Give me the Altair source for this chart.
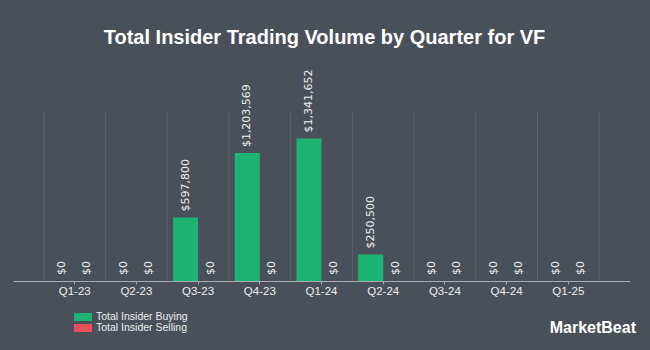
import altair as alt
import pandas as pd

quarters = ["Q1-23", "Q2-23", "Q3-23", "Q4-23", "Q1-24", "Q2-24", "Q3-24", "Q4-24", "Q1-25"]
buying = [0, 0, 597800, 1203569, 1341652, 250500, 0, 0, 0]
selling = [0, 0, 0, 0, 0, 0, 0, 0, 0]
series = ["Total Insider Buying", "Total Insider Selling"]
colors = ["#1db473", "#e8505b"]

rows = []
for q, b, s in zip(quarters, buying, selling):
    rows.append({"quarter": q, "type": series[0], "value": b})
    rows.append({"quarter": q, "type": series[1], "value": s})
df = pd.DataFrame(rows)
grid_df = pd.DataFrame({"quarter": quarters})
last_df = pd.DataFrame({"quarter": [quarters[-1]]})

BG = "#4a505a"
TXT = "#eeeeee"
GRID = "#5d636d"

xscale = alt.Scale(domain=quarters, paddingInner=0, paddingOuter=0.5)
yscale = alt.Scale(domain=[0, 1600000])

x_axis = alt.Axis(title=None, labelColor=TXT, labelFontSize=11.5, labelFont="Liberation Sans",
                  domainColor="#a9adb3", tickColor="#a9adb3", tickSize=3, labelPadding=1,
                  grid=False, labelAngle=0)

grid = alt.Chart(grid_df).mark_rule(color=GRID, strokeWidth=1).encode(
    x=alt.X("quarter:N", scale=xscale, bandPosition=0, axis=x_axis, sort=quarters),
    y=alt.value(0), y2=alt.value(170)
)
grid_last = alt.Chart(last_df).mark_rule(color=GRID, strokeWidth=1).encode(
    x=alt.X("quarter:N", scale=xscale, bandPosition=1, sort=quarters),
    y=alt.value(0), y2=alt.value(170)
)

bars = alt.Chart(df).mark_bar().encode(
    x=alt.X("quarter:N", scale=xscale, sort=quarters),
    xOffset=alt.XOffset("type:N", scale=alt.Scale(domain=series, paddingInner=0, paddingOuter=0.234)),
    y=alt.Y("value:Q", scale=yscale, axis=None),
    color=alt.Color("type:N", scale=alt.Scale(domain=series, range=colors),
                    legend=alt.Legend(title=None, orient="none", legendX=61, legendY=202,
                                      symbolType="M-1,-0.44L1,-0.44L1,0.44L-1,0.44Z",
                                      symbolSize=324, symbolStrokeWidth=0,
                                      labelColor=TXT, labelFontSize=10.5, labelFont="Liberation Sans",
                                      clipHeight=8, rowPadding=0, labelOffset=4)),
)

labels = alt.Chart(df).transform_calculate(
    label="'$' + format(datum.value, ',')"
).mark_text(angle=270, align="left", baseline="middle", dx=6, color=TXT,
            fontSize=11, font="DejaVu Sans").encode(
    x=alt.X("quarter:N", scale=xscale, sort=quarters),
    xOffset=alt.XOffset("type:N"),
    y=alt.Y("value:Q", scale=yscale),
    text="label:N",
)

logo = alt.Chart(pd.DataFrame({"t": ["MarketBeat"]})).mark_text(
    align="right", baseline="alphabetic", color="white", fontSize=16,
    font="Liberation Sans", fontWeight="bold"
).encode(x=alt.value(623), y=alt.value(222), text="t:N")

chart = alt.layer(grid, grid_last, bars, labels, logo).properties(
    width=617, height=170,
    background=BG,
    padding={"left": 13, "top": 111, "right": 20, "bottom": 69},
    autosize=alt.AutoSizeParams(type="none"),
    title=alt.TitleParams("Total Insider Trading Volume by Quarter for VF", fontSize=20,
                          font="Liberation Sans", fontWeight="bold", color="white",
                          anchor="middle", frame="group", offset=21, dx=3),
).configure_view(stroke=None)

chart.save("out.html", embed_options={"renderer": "svg", "actions": False})
